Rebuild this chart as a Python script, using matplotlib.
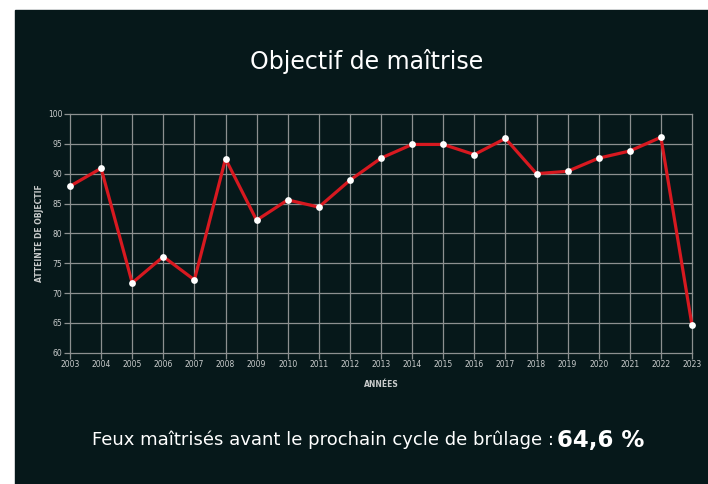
import numpy as np
import matplotlib
matplotlib.use("Agg")
import matplotlib.pyplot as plt
from matplotlib.patches import Rectangle
from matplotlib import font_manager

# données
annees = list(range(2003, 2024))
atteinte = [87.9, 90.9, 71.7, 76.1, 72.2, 92.5, 82.2, 85.6, 84.4, 88.9, 92.6,
            94.9, 94.9, 93.2, 95.9, 90.0, 90.4, 92.6, 93.8, 96.1, 64.6]
y_ticks = [60, 65, 70, 75, 80, 85, 90, 95, 100]

titre = "Objectif de maîtrise"
texte_bas = "Feux maîtrisés avant le prochain cycle de brûlage : "
valeur_bas = "64,6 %"

BG = "#06181a"
GRID = "#8c9090"
TXT = "#c9cccc"
RED = "#d71920"

noms = {f.name for f in font_manager.fontManager.ttflist}
famille = "Liberation Sans Narrow" if "Liberation Sans Narrow" in noms else "DejaVu Sans"
plt.rcParams["font.family"] = [famille, "DejaVu Sans"]

fig = plt.figure(figsize=(7.08, 4.84), dpi=100)
fig.patch.set_facecolor("white")
fig.patches.append(Rectangle((15 / 708, 0), 1, (484 - 10) / 484,
                             transform=fig.transFigure, color=BG, zorder=-10))

ax = fig.add_axes([70 / 708, 1 - 352.7 / 484, 622 / 708, 238.7 / 484])
ax.set_facecolor(BG)
ax.plot(annees, atteinte, color=RED, lw=2.3, zorder=3, clip_on=False)
ax.scatter(annees, atteinte, s=24, color="white", zorder=4, linewidths=0, clip_on=False)

ax.set_xlim(2003, 2023)
ax.set_ylim(60, 100)
ax.set_xticks(annees)
ax.set_yticks(y_ticks)
ax.grid(True, color=GRID, lw=0.9)
for gl in ax.get_xgridlines() + ax.get_ygridlines():
    gl.set_clip_on(False)
ax.set_axisbelow(True)
for s in ax.spines.values():
    s.set_visible(False)
ax.tick_params(colors=GRID, labelcolor=TXT, labelsize=5.5, length=4, width=0.9, pad=1.5)

ax.set_xlabel("ANNÉES", color=TXT, fontsize=5.5, fontweight="bold", labelpad=8)
ax.set_ylabel("ATTEINTE DE OBJECTIF", color=TXT, fontsize=5.5, fontweight="bold", labelpad=3)

fig.text(367 / 708, 1 - 62 / 484, titre, color="white", fontsize=17,
         ha="center", va="center")

t1 = fig.text(92 / 708, 1 - 440 / 484, texte_bas, color="white", fontsize=13,
              ha="left", va="center")
fig.canvas.draw()
bb = t1.get_window_extent()
fig.text((bb.x1 - 3) / 708, 1 - 440 / 484, valeur_bas, color="white", fontsize=16.5,
         fontweight="bold", ha="left", va="center")

fig.savefig("out.png", dpi=100, facecolor=fig.get_facecolor())
